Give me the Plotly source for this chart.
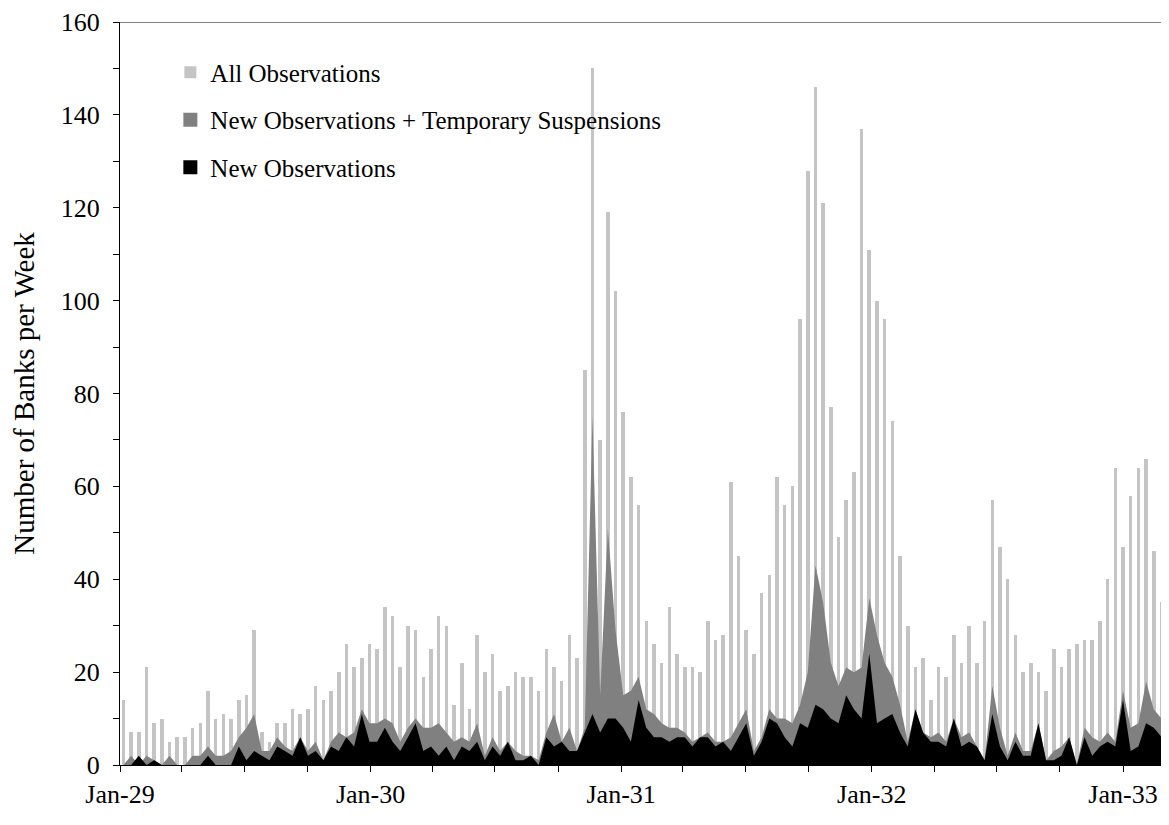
import numpy as np
import pandas as pd
import plotly.graph_objects as go

# Values (one value per visible bar)
all_obs = [14, 7, 7, 21, 9, 10, 5, 6, 6, 8, 9, 16, 10, 11, 10, 14, 15, 29, 7, 5,
           9, 9, 12, 11, 12, 17, 14, 16, 20, 26, 21, 23, 26, 25, 34, 32, 21, 30, 29, 19,
           25, 32, 30, 13, 22, 12, 28, 20, 24, 16, 17, 20, 19, 19, 16, 25, 21, 18, 28, 23,
           85, 150, 70, 119, 102, 76, 62, 56, 31, 26, 22, 34, 24, 21, 21, 20, 31, 27, 28, 61,
           45, 29, 24, 37, 41, 62, 56, 60, 96, 128, 146, 121, 77, 49, 57, 63, 137, 111, 100, 96,
           74, 45, 30, 21, 23, 14, 21, 19, 28, 22, 30, 22, 31, 57, 47, 40, 28, 20, 22, 20,
           16, 25, 21, 25, 26, 27, 27, 31, 40, 64, 47, 58, 64, 66, 46, 35]

new_plus_temp = [0, 2, 0, 2, 1, 0, 2, 0, 0, 2, 2, 4, 2, 2, 3, 6, 8, 11, 3, 3,
                 6, 4, 3, 6, 3, 5, 1, 5, 7, 6, 7, 12, 9, 9, 10, 9, 5, 8, 10, 8,
                 8, 9, 7, 5, 6, 5, 9, 2, 6, 3, 5, 3, 2, 2, 1, 7, 11, 5, 8, 3,
                 8, 75, 15, 51, 29, 15, 16, 19, 12, 11, 9, 8, 8, 7, 5, 6, 7, 5, 5, 6,
                 9, 12, 3, 6, 12, 10, 10, 9, 13, 20, 43, 35, 22, 17, 21, 20, 21, 36, 28, 22,
                 19, 13, 5, 12, 7, 6, 7, 5, 10, 6, 7, 4, 1, 17, 8, 2, 7, 3, 3, 9,
                 1, 3, 4, 6, 0, 8, 6, 5, 7, 5, 16, 8, 9, 18, 12, 10]

new_obs = [0, 0, 2, 0, 1, 0, 0, 0, 0, 0, 0, 2, 0, 0, 0, 4, 1, 3, 2, 1,
           4, 3, 2, 6, 2, 3, 1, 4, 3, 6, 4, 11, 5, 5, 8, 5, 3, 6, 9, 3,
           4, 2, 4, 1, 4, 3, 5, 1, 4, 2, 5, 1, 1, 2, 0, 6, 4, 5, 3, 3,
           7, 11, 7, 10, 10, 8, 5, 14, 8, 6, 6, 5, 6, 6, 4, 6, 6, 4, 5, 3,
           6, 9, 2, 5, 10, 9, 6, 4, 9, 8, 13, 12, 10, 9, 15, 12, 10, 24, 9, 10,
           11, 7, 4, 12, 7, 5, 5, 4, 10, 4, 5, 4, 1, 11, 4, 1, 5, 2, 2, 9,
           1, 1, 2, 6, 0, 6, 2, 4, 5, 4, 14, 3, 4, 9, 8, 6]

year_ticks = ["1929-01-01", "1930-01-01", "1931-01-01", "1932-01-01", "1933-01-01"]
year_labels = ["Jan-29", "Jan-30", "Jan-31", "Jan-32", "Jan-33"]

series_names = ["All Observations", "New Observations + Temporary Suspensions", "New Observations"]
series_colors = ["#c4c4c4", "#808080", "#000000"]

n = len(all_obs)
dates = pd.Timestamp("1929-01-06") + pd.to_timedelta(np.arange(n) * 11.2, unit="D")

FONT = "Liberation Serif, Times New Roman, serif"

fig = go.Figure()
fig.add_trace(go.Bar(
    x=dates, y=all_obs, name=series_names[0],
    marker=dict(color=series_colors[0], line=dict(width=0)),
    width=5.2 * 86400000, legendgroup="a",
))
fig.add_trace(go.Scatter(
    x=dates, y=new_plus_temp, name=series_names[1],
    mode="none", fill="tozeroy", fillcolor=series_colors[1],
    legendgroup="b", showlegend=False,
))
fig.add_trace(go.Scatter(
    x=dates, y=new_obs, name=series_names[2],
    mode="none", fill="tozeroy", fillcolor=series_colors[2],
    legendgroup="c", showlegend=False,
))
# legend-only square swatches for the two area series
for name, col, grp in [(series_names[1], series_colors[1], "b"),
                       (series_names[2], series_colors[2], "c")]:
    fig.add_trace(go.Scatter(
        x=[None], y=[None], name=name, mode="markers",
        marker=dict(symbol="square", size=14, color=col),
        legendgroup=grp, showlegend=True,
    ))

fig.update_layout(
    width=1161, height=817,
    margin=dict(l=112, r=0, t=11, b=60),
    paper_bgcolor="white", plot_bgcolor="white",
    font=dict(family=FONT, size=24, color="black"),
    showlegend=True,
    legend=dict(x=0.048, y=0.963, xanchor="left", yanchor="top",
                bgcolor="rgba(0,0,0,0)", font=dict(size=25, family=FONT),
                traceorder="grouped", tracegroupgap=12, itemwidth=30),
    bargap=0,
)
fig.update_xaxes(
    type="date", range=["1929-01-01", "1933-03-09"],
    tickvals=year_ticks, ticktext=year_labels,
    ticks="outside", ticklen=6, tickcolor="black",
    minor=dict(dtick="M3", tick0="1929-01-01", ticks="outside", ticklen=6, tickcolor="black"),
    showline=True, linecolor="black", linewidth=1, showgrid=False, zeroline=False,
    tickfont=dict(size=26, family=FONT), ticklabeloverflow="allow",
)
fig.update_yaxes(
    range=[0, 160], dtick=20, tick0=0,
    ticks="outside", ticklen=6, tickcolor="black",
    minor=dict(dtick=10, ticks="outside", ticklen=6, tickcolor="black"),
    showline=True, linecolor="black", linewidth=1, showgrid=False, zeroline=False,
    tickfont=dict(size=26, family=FONT), ticklabelstandoff=8, ticklabeloverflow="allow",
    title=dict(text="Number of Banks per Week", font=dict(size=29, family=FONT), standoff=21),
)
fig.add_shape(type="line", xref="paper", yref="y", x0=0, x1=1, y0=160, y1=160,
              line=dict(color="#808080", width=2))

fig.write_html("out.html")
